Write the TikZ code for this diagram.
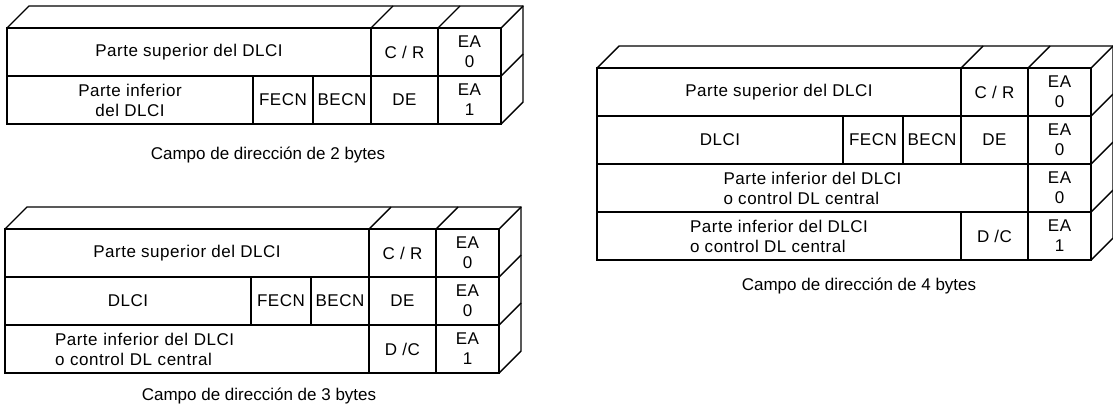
\documentclass[tikz,border=0pt]{standalone}
\usepackage{fontspec}
\setmainfont{Liberation Sans}
\usepackage{tikz}
\usetikzlibrary{positioning}
\tikzstyle{cell} = [rectangle, draw, line width=1.4pt, outer sep=0pt, inner sep=0pt, minimum height=48pt, font=\fontsize{17}{20}\selectfont\addfontfeature{LetterSpace=3}, align=center]
\tikzstyle{line} = [draw, line width=1.4pt]
\tikzstyle{caption} = [font=\fontsize{17}{20}\selectfont]
\def\dep{22}

\begin{document}
\begin{tikzpicture}[x=1pt, y=-1pt]
        \useasboundingbox (0,0) rectangle (1113,405);

        % 2 byte field
        \node [cell, minimum width=364pt, anchor=north west] (sup1) at (7,28) {Parte superior del DLCI};
        \node [cell, minimum width=67pt, right=0pt of sup1] (cr1) {C / R};
        \node [cell, minimum width=63pt, right=0pt of cr1] (eaA1) {EA\\0};
        \node [cell, minimum width=246pt, below right=0pt and 0pt of sup1.south west] (inf1) {Parte inferior\\del DLCI};
        \node [cell, minimum width=60pt, right=0pt of inf1] (fecn1) {FECN};
        \node [cell, minimum width=58pt, right=0pt of fecn1] (becn1) {BECN};
        \node [cell, minimum width=67pt, right=0pt of becn1] (de1) {DE};
        \node [cell, minimum width=63pt, right=0pt of de1] (eaB1) {EA\\1};

        \path [line] (sup1.north west) -- ++(\dep,-\dep) -- ([shift={(\dep,-\dep)}]eaA1.north east) -- ([shift={(\dep,-\dep)}]eaB1.south east) -- (eaB1.south east);
        \foreach \a in {cr1.north west,eaA1.north west,eaA1.north east,eaA1.south east}
            \path [line] (\a) -- ++(\dep,-\dep);

        \node [caption] (cap1) at (268,155) {Campo de dirección de 2 bytes};

        % 3 byte field
        \node [cell, minimum width=364pt, anchor=north west] (sup2) at (5,229) {Parte superior del DLCI};
        \node [cell, minimum width=67pt, right=0pt of sup2] (cr2) {C / R};
        \node [cell, minimum width=63pt, right=0pt of cr2] (eaA2) {EA\\0};
        \node [cell, minimum width=246pt, below right=0pt and 0pt of sup2.south west] (dlci2) {DLCI};
        \node [cell, minimum width=60pt, right=0pt of dlci2] (fecn2) {FECN};
        \node [cell, minimum width=58pt, right=0pt of fecn2] (becn2) {BECN};
        \node [cell, minimum width=67pt, right=0pt of becn2] (de2) {DE};
        \node [cell, minimum width=63pt, right=0pt of de2] (eaB2) {EA\\0};
        \node [cell, inner xsep=50pt, text width=264pt, align=left, below right=0pt and 0pt of dlci2.south west] (inf2) {Parte inferior del DLCI\\o control DL central};
        \node [cell, minimum width=67pt, right=0pt of inf2] (dc2) {D /C};
        \node [cell, minimum width=63pt, right=0pt of dc2] (eaC2) {EA\\1};

        \path [line] (sup2.north west) -- ++(\dep,-\dep) -- ([shift={(\dep,-\dep)}]eaA2.north east) -- ([shift={(\dep,-\dep)}]eaC2.south east) -- (eaC2.south east);
        \foreach \a in {cr2.north west,eaA2.north west,eaA2.north east,eaA2.south east,eaB2.south east}
            \path [line] (\a) -- ++(\dep,-\dep);

        \node [caption] (cap2) at (259,396) {Campo de dirección de 3 bytes};

        % 4 byte field
        \node [cell, minimum width=364pt, anchor=north west] (sup3) at (597,68) {Parte superior del DLCI};
        \node [cell, minimum width=67pt, right=0pt of sup3] (cr3) {C / R};
        \node [cell, minimum width=63pt, right=0pt of cr3] (eaA3) {EA\\0};
        \node [cell, minimum width=246pt, below right=0pt and 0pt of sup3.south west] (dlci3) {DLCI};
        \node [cell, minimum width=60pt, right=0pt of dlci3] (fecn3) {FECN};
        \node [cell, minimum width=58pt, right=0pt of fecn3] (becn3) {BECN};
        \node [cell, minimum width=67pt, right=0pt of becn3] (de3) {DE};
        \node [cell, minimum width=63pt, right=0pt of de3] (eaB3) {EA\\0};
        \node [cell, minimum width=431pt, align=left, below right=0pt and 0pt of dlci3.south west] (mid3) {Parte inferior del DLCI\\o control DL central};
        \node [cell, minimum width=63pt, right=0pt of mid3] (eaC3) {EA\\0};
        \node [cell, minimum width=364pt, align=left, below right=0pt and 0pt of mid3.south west] (inf3) {Parte inferior del DLCI\\o control DL central};
        \node [cell, minimum width=67pt, right=0pt of inf3] (dc3) {D /C};
        \node [cell, minimum width=63pt, right=0pt of dc3] (eaD3) {EA\\1};

        \path [line] (sup3.north west) -- ++(\dep,-\dep) -- ([shift={(\dep,-\dep)}]eaA3.north east) -- ([shift={(\dep,-\dep)}]eaD3.south east) -- (eaD3.south east);
        \foreach \a in {cr3.north west,eaA3.north west,eaA3.north east,eaA3.south east,eaB3.south east,eaC3.south east}
            \path [line] (\a) -- ++(\dep,-\dep);

        \node [caption] (cap3) at (859,286) {Campo de dirección de 4 bytes};
    \end{tikzpicture}
\end{document}
